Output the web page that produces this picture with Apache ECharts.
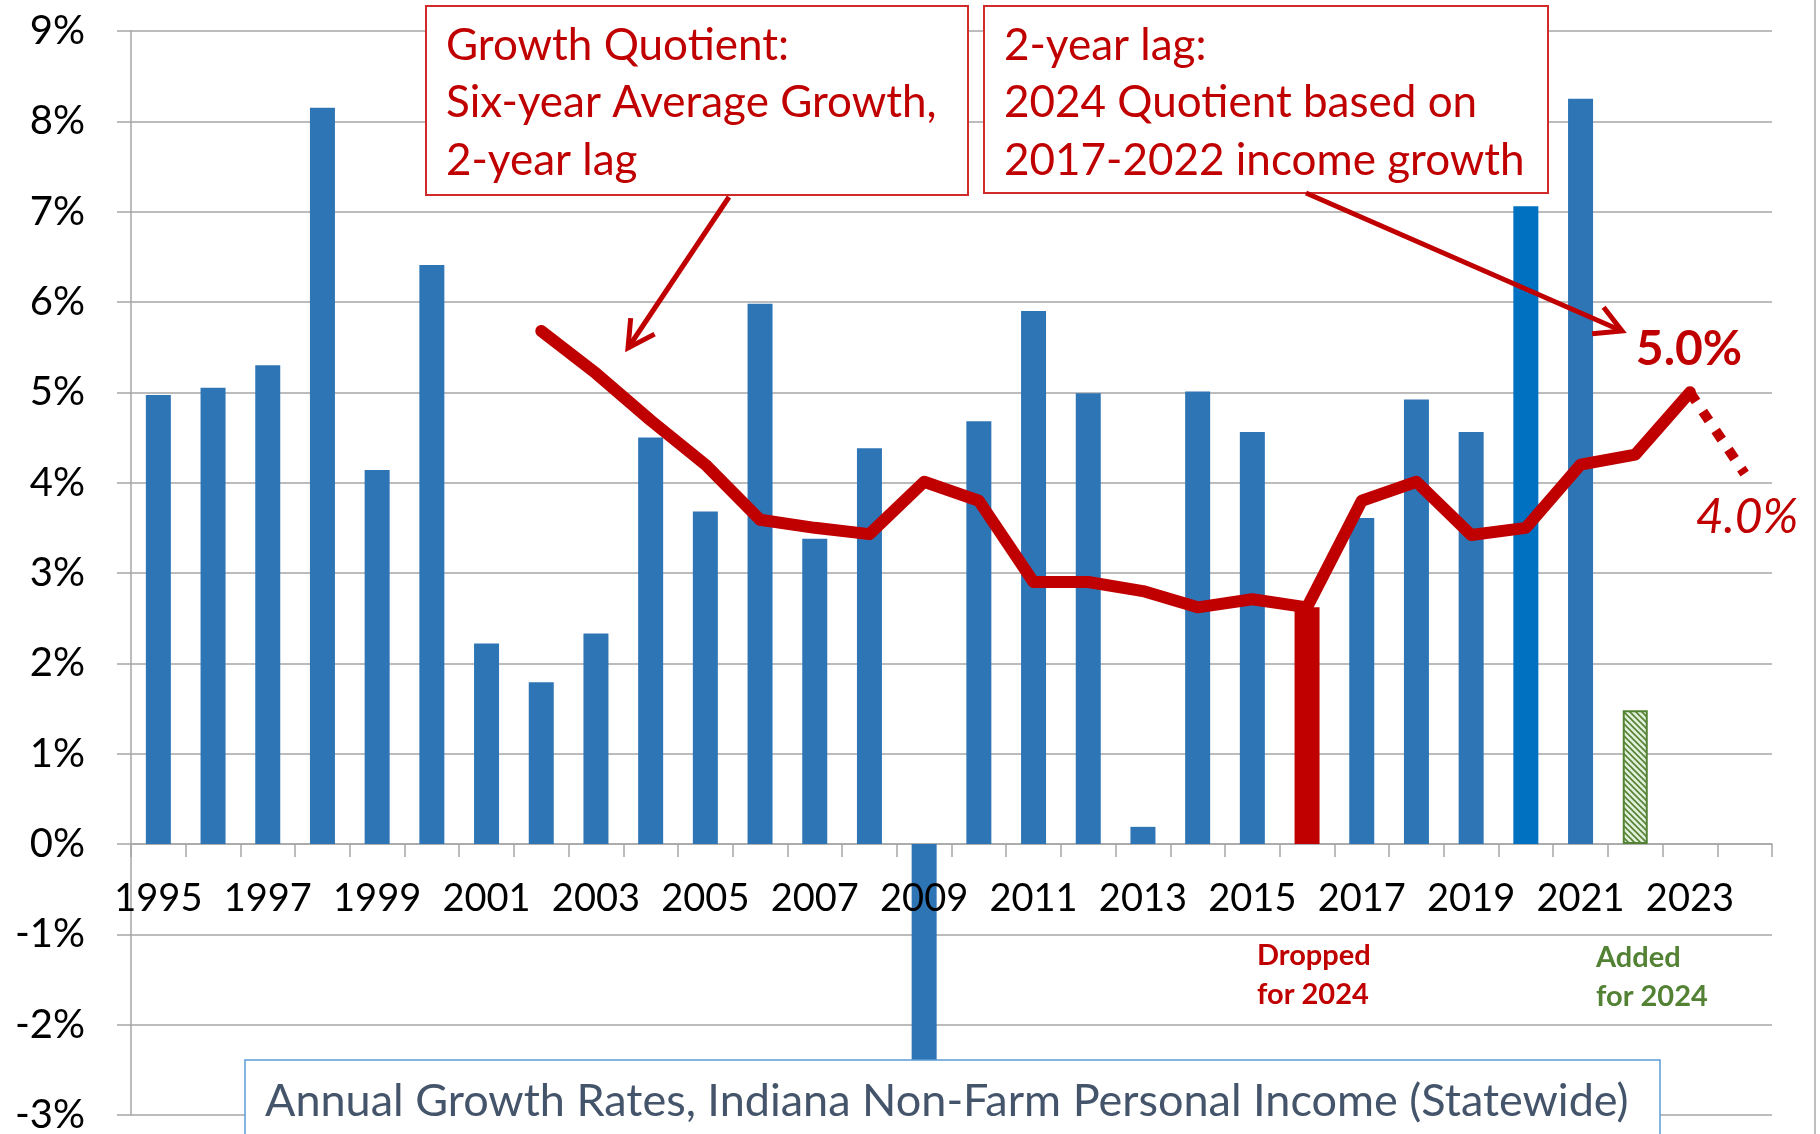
<!DOCTYPE html>
<html>
<head>
<meta charset="utf-8">
<script src="https://cdn.jsdelivr.net/npm/echarts@6/dist/echarts.min.js"></script>
<style>
  html, body { margin: 0; padding: 0; background: #fff; }
  #chart { width: 1820px; height: 1134px; }
</style>
</head>
<body>
<div id="chart"></div>
<script>
// years on the category axis
var years = [];
for (var y = 1995; y <= 2024; y++) years.push(String(y));

// annual growth, Indiana non-farm personal income (%)
var growth = [4.97, 5.05, 5.30, 8.15, 4.14, 6.41, 2.22, 1.79, 2.33, 4.50,
              3.68, 5.98, 3.38, 4.38, -2.5, 4.68, 5.90, 4.99, 0.19, 5.01,
              4.56, 2.62, 3.61, 4.92, 4.56, 7.06, 8.25, 1.48, null, null];

// six-year average growth quotient, 2-year lag (%)
var quotient = [null, null, null, null, null, null, null, 5.68, 5.21, 4.69,
                4.20, 3.59, 3.50, 3.43, 4.01, 3.80, 2.90, 2.90, 2.80, 2.62,
                2.71, 2.62, 3.80, 4.01, 3.42, 3.50, 4.20, 4.31, 5.00, null];

// projected drop for next year
var projection = [null, null, null, null, null, null, null, null, null, null,
                  null, null, null, null, null, null, null, null, null, null,
                  null, null, null, null, null, null, null, null, 5.00, 4.10];

var droppedYear = '2016';
var addedYear = '2022';
var brightYear = '2020';

var RED = '#C00000';
var BLUE = '#2E75B6';
var GREEN = '#548235';
var GRID = '#A6A6A6';
var FONT = 'Lato';

var hatch = document.createElement('canvas');
hatch.width = 6; hatch.height = 6;
var hctx = hatch.getContext('2d');
hctx.fillStyle = '#E2EFDA';
hctx.fillRect(0, 0, 6, 6);
hctx.strokeStyle = GREEN;
hctx.lineWidth = 1.6;
hctx.beginPath();
hctx.moveTo(-1, -1); hctx.lineTo(7, 7);
hctx.moveTo(-1, 5); hctx.lineTo(1, 7);
hctx.moveTo(5, -1); hctx.lineTo(7, 1);
hctx.stroke();

var barData = [];
for (var i = 0; i < years.length; i++) {
  var item = { value: growth[i] };
  if (years[i] === droppedYear) item.itemStyle = { color: RED };
  else if (years[i] === brightYear) item.itemStyle = { color: '#0070C0' };
  else if (years[i] === addedYear) item.itemStyle = { color: { image: hatch, repeat: 'repeat' }, borderColor: GREEN, borderWidth: 2 };
  barData.push(item);
}

function arrow(x1, y1, x2, y2) {
  var a = Math.atan2(y1 - y2, x1 - x2);
  var len = 30, sp = 0.5;
  return [
    { type: 'line', z: 120, shape: { x1: x1, y1: y1, x2: x2, y2: y2 }, style: { stroke: RED, lineWidth: 5 } },
    { type: 'polyline', z: 120, shape: { points: [
        [x2 + len * Math.cos(a + sp), y2 + len * Math.sin(a + sp)],
        [x2, y2],
        [x2 + len * Math.cos(a - sp), y2 + len * Math.sin(a - sp)]] },
      style: { stroke: RED, lineWidth: 5, fill: null } }
  ];
}

var graphics = [
  { type: 'line', z: 90, shape: { x1: 1815, y1: 0, x2: 1815, y2: 1134 }, style: { stroke: '#BFBFBF', lineWidth: 2 } },
  { type: 'rect', z: 100, shape: { x: 426, y: 6, width: 542, height: 189 }, style: { fill: '#fff', stroke: '#D02A2A', lineWidth: 2 } },
  { type: 'text', z: 101, left: 446, top: 17, style: { text: 'Growth Quotient:\nSix-year Average Growth,\n2-year lag', font: '44px ' + FONT, fill: RED, lineHeight: 57.5 } },
  { type: 'rect', z: 100, shape: { x: 984, y: 6, width: 564, height: 187 }, style: { fill: '#fff', stroke: '#D02A2A', lineWidth: 2 } },
  { type: 'text', z: 101, left: 1004, top: 17, style: { text: '2-year lag:\n2024 Quotient based on\n2017-2022 income growth', font: '44px ' + FONT, fill: RED, lineHeight: 57.5 } },
  { type: 'text', z: 101, x: 1689, y: 350, style: { text: '5.0%', font: 'bold 48px ' + FONT, fill: RED, textAlign: 'center', textVerticalAlign: 'middle' } },
  { type: 'text', z: 101, x: 1747, y: 518, style: { text: '4.0%', font: 'italic 48px ' + FONT, fill: RED, textAlign: 'center', textVerticalAlign: 'middle' } },
  { type: 'text', z: 101, left: 1257, top: 936, style: { text: 'Dropped\nfor 2024', font: 'bold 29px ' + FONT, fill: RED, lineHeight: 39 } },
  { type: 'text', z: 101, left: 1596, top: 938, style: { text: 'Added\nfor 2024', font: 'bold 29px ' + FONT, fill: GREEN, lineHeight: 39 } },
  { type: 'rect', z: 100, shape: { x: 245, y: 1060, width: 1415, height: 90 }, style: { fill: '#fff', stroke: '#5B9BD5', lineWidth: 1.5 } },
  { type: 'text', z: 101, x: 265, y: 1101, style: { text: 'Annual Growth Rates, Indiana Non-Farm Personal Income (Statewide)', font: '45px ' + FONT, fill: '#44546A', textVerticalAlign: 'middle' } }
].concat(arrow(729, 197, 628, 348)).concat(arrow(1306, 193, 1622, 331));

var chart = echarts.init(document.getElementById('chart'));
var option = {
  animation: false,
  backgroundColor: '#fff',
  grid: { left: 131, right: 48, top: 31, bottom: 19, containLabel: false, outerBoundsMode: 'none' },
  xAxis: [{
    type: 'category',
    data: years,
    axisLine: { onZero: true, lineStyle: { color: GRID, width: 1.5 } },
    axisTick: { show: true, interval: 0, length: 13, lineStyle: { color: GRID, width: 1.5 } },
    axisLabel: { show: false }
  }, {
    // label row sitting under the zero line, drawn over the bars
    type: 'category',
    data: years,
    position: 'bottom',
    offset: -271,
    z: 10,
    axisLine: { show: false, onZero: false },
    axisTick: { show: false },
    axisLabel: { interval: 1, margin: 36, fontFamily: FONT, fontSize: 38, color: '#000' }
  }],
  yAxis: {
    type: 'value',
    min: -3, max: 9, interval: 1,
    axisLine: { show: true, lineStyle: { color: GRID, width: 1.5 } },
    axisTick: { show: true, length: 14, lineStyle: { color: GRID, width: 1.5 } },
    splitLine: { lineStyle: { color: GRID, width: 1.5 } },
    axisLabel: { formatter: '{value}%', margin: 46, fontFamily: FONT, fontSize: 40, color: '#000' }
  },
  series: [
    { name: 'Growth', type: 'bar', data: barData, barWidth: 25, itemStyle: { color: BLUE } },
    { name: 'Quotient', type: 'line', data: quotient, symbol: 'none', connectNulls: false,
      lineStyle: { color: RED, width: 12, cap: 'round', join: 'round' }, z: 5 },
    { name: 'Projection', type: 'line', data: projection, symbol: 'none',
      lineStyle: { color: RED, width: 10, type: [11, 12], cap: 'butt' }, z: 5 }
  ],
  graphic: graphics
};
chart.setOption(option);
</script>
</body>
</html>
